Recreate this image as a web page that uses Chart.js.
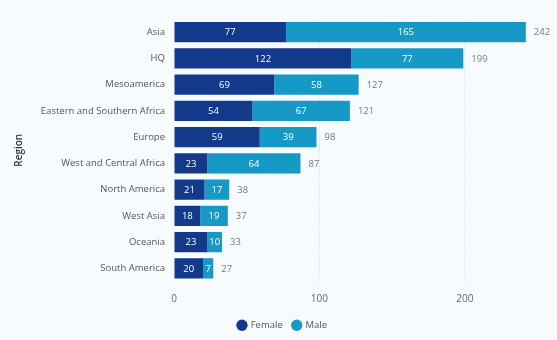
<!DOCTYPE html>
<html><head><meta charset="utf-8">
<script src="https://cdn.jsdelivr.net/npm/chart.js@4"></script>
<style>
html,body{margin:0;padding:0;background:#f7fbfe;}
#wrap{width:557px;height:340px;position:relative;}
</style></head>
<body><div id="wrap"><canvas id="c" width="557" height="340"></canvas></div>
<script>
const regions = ["Asia","HQ","Mesoamerica","Eastern and Southern Africa","Europe","West and Central Africa","North America","West Asia","Oceania","South America"];
const female = [77,122,69,54,59,23,21,18,23,20];
const male = [165,77,58,67,39,64,17,19,10,7];
const totals = [242,199,127,121,98,87,38,37,33,27];
const xTicks = [0,100,200];

const FONT = "'Open Sans', 'Noto Sans', sans-serif";

const labelPlugin = {
  id: 'labels',
  afterDatasetsDraw(chart) {
    const ctx = chart.ctx;
    ctx.save();
    ctx.font = "9.5px " + FONT;
    ctx.textBaseline = 'middle';
    chart.data.datasets.forEach((ds, di) => {
      const meta = chart.getDatasetMeta(di);
      meta.data.forEach((bar, i) => {
        const v = ds.data[i];
        ctx.fillStyle = '#ffffff';
        ctx.textAlign = 'center';
        ctx.fillText(String(v), (bar.base + bar.x) / 2, bar.y + 0.5);
      });
    });
    const last = chart.getDatasetMeta(chart.data.datasets.length - 1);
    last.data.forEach((bar, i) => {
      ctx.fillStyle = '#777777';
      ctx.textAlign = 'left';
      ctx.fillText(String(totals[i]), bar.x + 8, bar.y + 0.5);
    });
    ctx.restore();
  }
};

new Chart(document.getElementById('c'), {
  type: 'bar',
  data: {
    labels: regions,
    datasets: [
      {label: 'Female', data: female, backgroundColor: '#12398a', borderWidth: 0, categoryPercentage: 0.78, barPercentage: 1},
      {label: 'Male', data: male, backgroundColor: '#1699c4', borderWidth: 0, categoryPercentage: 0.78, barPercentage: 1}
    ]
  },
  options: {
    indexAxis: 'y',
    responsive: false,
    animation: false,
    layout: {padding: {top: 19, left: 13, right: 5, bottom: 0}},
    plugins: {
      legend: {
        position: 'bottom',
        labels: {usePointStyle: true, pointStyle: 'circle', boxWidth: 8, boxHeight: 8, padding: 10,
          color: '#555', font: {family: FONT, size: 9.5}}
      },
      tooltip: {enabled: false}
    },
    scales: {
      x: {
        stacked: true, min: 0, max: 260,
        afterBuildTicks(scale) { scale.ticks = xTicks.map(v => ({value: v})); },
        afterFit(scale) { scale.height = 29; },
        border: {display: false, dash: [1, 2]},
        grid: {color: ctx => ctx.tick && ctx.tick.value === 0 ? 'rgba(0,0,0,0)' : '#d4d9df', lineWidth: 1, drawTicks: false},
        ticks: {padding: 12, color: '#666', font: {family: FONT, size: 10}}
      },
      y: {
        stacked: true,
        afterFit(scale) { scale.width = 161; },
        border: {display: false},
        grid: {display: false, drawTicks: false},
        ticks: {padding: 9, color: '#555', font: {family: FONT, size: 9.5}},
        title: {display: true, text: 'Region', color: '#333', font: {family: FONT, size: 10, weight: '600'}, padding: {top: 0, bottom: 2}}
      }
    }
  },
  plugins: [labelPlugin]
});
</script>
</body></html>
